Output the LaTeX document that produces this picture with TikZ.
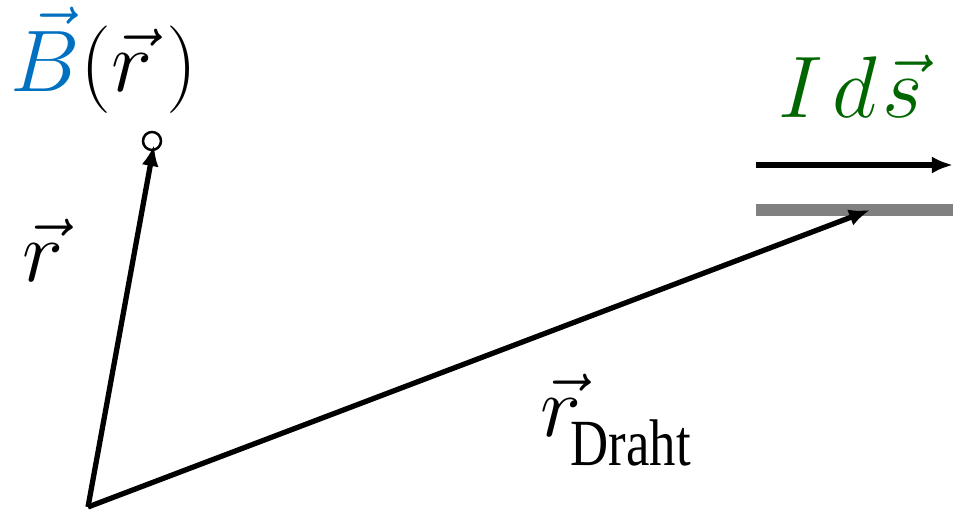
\documentclass[tikz,border=0pt]{standalone}
\usepackage{amsmath}
\usepackage{fontspec}
\setmainfont{Liberation Serif}
\usetikzlibrary{arrows, arrows.meta}
\definecolor{fieldblue}{RGB}{0,112,192}
\definecolor{wiregreen}{RGB}{0,102,0}
\tikzset{vecarrow/.style={-{Latex[length=0.21cm,width=0.17cm]},line width=1.5pt}}

\begin{document}
\begin{tikzpicture}[x=0.01cm,y=-0.01cm]
    \useasboundingbox (0,0) rectangle (953,510);
    \coordinate (o) at (88,507);
    \coordinate (p) at (154,145);
    \coordinate (w) at (870,210);
    \coordinate (wl) at (756,210);
    \coordinate (wr) at (953,210);
    \coordinate (sl) at (756,165);
    \coordinate (sr) at (953,165);
    \draw[-,line width=3.4pt,gray] (wl) to (wr);
    \node[circle,draw,line width=0.7pt,minimum size=0.18cm,inner sep=0pt] (pt) at (152,141){};
    \draw[vecarrow] (o) to (p);
    \draw[vecarrow] (o) to (w);
    \draw[vecarrow] (sl) to (sr);
    \node[anchor=base west,inner sep=0pt] (bf) at (10,92){\fontsize{24}{24}\selectfont$\color{fieldblue}\vec{B}\color{black}(\vec{r}\,)$};
    \node[anchor=base west,inner sep=0pt] (rl) at (22,282){\fontsize{28}{28}\selectfont$\vec{r}$};
    \node[anchor=base west,inner sep=0pt] (ids) at (778,118){\fontsize{24}{24}\selectfont\color{wiregreen}$I\mkern2mu d\mkern1mu\vec{s}$};
    \node[anchor=base west,inner sep=0pt] (rd) at (540,437){\fontsize{28}{28}\selectfont$\vec{r}$};
    \node[anchor=base west,inner sep=0pt] (dr) at (570,466){\fontsize{15}{15}\selectfont\scalebox{1}[1.25]{Draht}};
\end{tikzpicture}
\end{document}
